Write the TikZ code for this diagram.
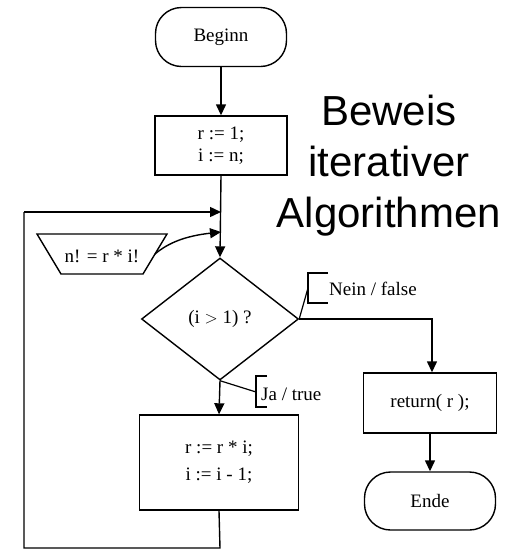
\documentclass[tikz,border=0pt]{standalone}
\usepackage{fontspec}
\setmainfont{Liberation Serif}
\newfontfamily\bigsans{Liberation Sans}
\usetikzlibrary{shapes.geometric,arrows.meta}
\tikzset{
  every picture/.style={x=1pt,y=-1pt},
  base/.style={draw=black, line width=1.4pt, inner sep=0pt, font=\fontsize{19}{22}\selectfont, align=center},
  term/.style={base, rectangle, rounded corners=26pt},
  procbox/.style={base, rectangle},
  decide/.style={base, diamond},
  conn/.style={line width=1.4pt, -{Triangle[length=11pt,width=10pt]}},
  plain/.style={line width=1.4pt},
  brk/.style={line width=1.2pt},
  lbl/.style={inner sep=0pt, anchor=west, font=\fontsize{19}{22}\selectfont},
}
\begin{document}
\begin{tikzpicture}
\useasboundingbox (0,0) rectangle (511,550);
% nodes
\node[term, minimum width=131pt, minimum height=59pt] (begin) at (221,37) {Beginn};
\node[procbox, minimum width=132pt, minimum height=59pt] (init) at (221,145.5) {r := 1;\\ i := n;};
\node[decide, minimum width=157pt, minimum height=122pt] (cond) at (220,319) {(i $>$ 1) ?};
\node[procbox, minimum width=159pt, minimum height=95pt, font=\fontsize{19}{27}\selectfont] (step2) at (219,462.5) {r := r * i;\\ i := i - 1;};
\node[inner sep=0pt, font=\fontsize{19}{22}\selectfont] (inv) at (102,256) {n! = r * i!};
\draw[plain] (37,234) -- (167,234) -- (143,274) -- (61,274) -- cycle;
\node[procbox, minimum width=133pt, minimum height=60pt] (ret) at (430,403) {return( r );};
\node[term, minimum width=131pt, minimum height=58pt] (ende) at (430,501) {Ende};
\node[inner sep=0pt, align=center, font=\bigsans\fontsize{42}{51}\selectfont] (title) at (389,166) {Beweis\\ iterativer\\ Algorithmen};
% helper coordinates
\coordinate (ie) at (155,254);
\coordinate (m1) at (221,212);
\coordinate (m2) at (221,232);
\coordinate (rc) at (432,319);
\coordinate (lb) at (220,548);
\coordinate (lc) at (24,548);
\coordinate (ld) at (24,212);
\coordinate (nb) at (308,288);
\coordinate (jb) at (256,392);
% connectors
\draw[conn] (begin.south) -- (init.north);
\draw[conn] (init.south) -- (cond.north);
\draw[conn] (cond.south) -- (step2.north);
\draw[conn] (cond.east) -- (rc) -- (rc |- ret.north);
\draw[conn] (ret.south) -- (ende.north);
\draw[plain] (step2.south) -- (lb) -- (lc) -- (ld);
\draw[conn] (ld) -- (m1);
\draw[conn] (ie) .. controls (168,243) and (185,236) .. (m2);
% labels
\draw[brk] (cond.east) -- (nb);
\draw[brk] (328,273) -- (308,273) -- (308,303) -- (328,303);
\node[lbl] (nein) at (329,289) {Nein / false};
\draw[brk] (cond.south) -- (jb);
\draw[brk] (267,376) -- (256,376) -- (256,407) -- (267,407);
\node[lbl] (ja) at (261,394) {Ja / true};
\end{tikzpicture}
\end{document}
